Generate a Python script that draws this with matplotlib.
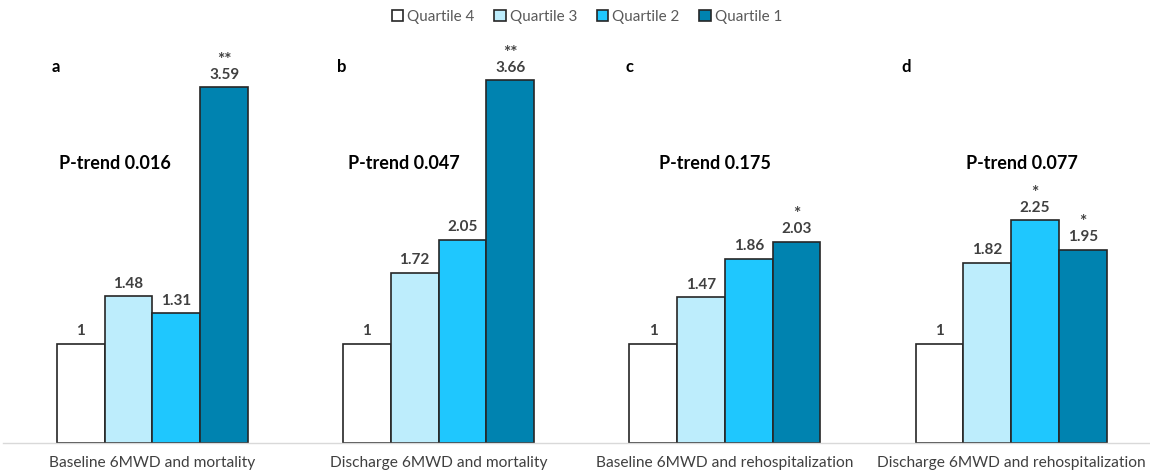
import numpy as np
import matplotlib.pyplot as plt
from matplotlib.patches import Patch

plt.rcParams['font.family'] = ['Lato', 'DejaVu Sans']

groups = ["Baseline 6MWD and mortality", "Discharge 6MWD and mortality",
          "Baseline 6MWD and rehospitalization", "Discharge 6MWD and rehospitalization"]
panels = ["a", "b", "c", "d"]
p_trend = ["P-trend 0.016", "P-trend 0.047", "P-trend 0.175", "P-trend 0.077"]
quartiles = ["Quartile 4", "Quartile 3", "Quartile 2", "Quartile 1"]

q4 = [1, 1, 1, 1]
q3 = [1.48, 1.72, 1.47, 1.82]
q2 = [1.31, 2.05, 1.86, 2.25]
q1 = [3.59, 3.66, 2.03, 1.95]
stars = [
    ["", "", "", "**"],
    ["", "", "", "**"],
    ["", "", "", "*"],
    ["", "", "*", "*"],
]

colors = ["#FFFFFF", "#BDEDFC", "#1FC7FE", "#0083B0"]
series = [q4, q3, q2, q1]

fig = plt.figure(figsize=(11.5, 4.75), dpi=100)
ax = fig.add_axes([0.003, 32 / 475, 0.997, 416 / 475])

x = np.arange(len(groups))
width = 0.167
offsets = (np.arange(4) - 1.5) * width
# horizontal shifts of the panel letters and P-trend notes from the group centre
letter_dx = [-0.352, -0.355, -0.348, -0.383]
ptrend_dx = [-0.129, -0.122, -0.035, 0.038]

for i, vals in enumerate(series):
    bars = ax.bar(x + offsets[i], vals, width, color=colors[i],
                  edgecolor="#262626", linewidth=1.2, label=quartiles[i], zorder=2)
    for j, b in enumerate(bars):
        v = vals[j]
        ax.annotate(f"{v:g}", xy=(b.get_x() + b.get_width() / 2, v), xytext=(0, 4),
                    textcoords="offset points", ha="center", va="bottom",
                    fontsize=11, fontweight="bold", color="#404040")
        if stars[j][i]:
            ax.annotate(stars[j][i], xy=(b.get_x() + b.get_width() / 2, v), xytext=(0, 14),
                        textcoords="offset points", ha="center", va="bottom",
                        fontsize=12.5, fontweight="bold", color="#404040")

# panel letters and trend tests
for j in range(len(groups)):
    ax.text(x[j] + letter_dx[j], 3.8, panels[j], fontsize=12,
            fontweight="bold", color="black", ha="left", va="center")
    ax.text(x[j] + ptrend_dx[j], 2.82, p_trend[j], fontsize=13,
            fontweight="bold", color="black", ha="center", va="center")

ax.set_xlim(-0.52, 3.485)
ax.set_ylim(0, 4.2)
ax.set_xticks(x)
ax.set_xticklabels(groups, fontsize=11.2, color="#404040")
ax.tick_params(axis="x", length=0, pad=9)
ax.set_yticks([])
for s in ["top", "right", "left"]:
    ax.spines[s].set_visible(False)
ax.spines["bottom"].set_color("#D9D9D9")
ax.spines["bottom"].set_linewidth(1.0)

handles = [Patch(facecolor=c, edgecolor="#262626", linewidth=1.2) for c in colors]
fig.legend(handles, quartiles, loc="center", bbox_to_anchor=(587 / 1150, 1 - 17 / 475),
           ncol=4, frameon=False, fontsize=11, handlelength=0.75, handleheight=0.75,
           handletextpad=0.25, columnspacing=1.3, labelcolor="#595959")

fig.savefig("out.png", dpi=100)
